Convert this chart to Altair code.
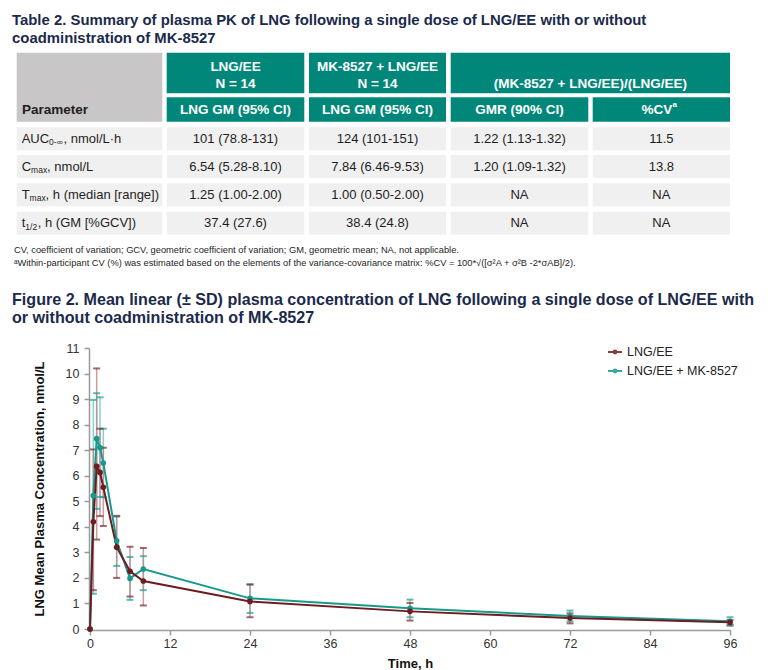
import altair as alt
import pandas as pd

FONT = "Liberation Sans"
NAVY = "#1b2a4c"
TEAL_HDR = "#00877a"
GRAY_HDR = "#c8c6c6"
CELL_BG = "#f0f0f0"
INK = "#1e1e1e"
RED = "#6d1c21"
TEAL = "#17998c"
RED_BAR = "#c08a8e"
TEAL_BAR = "#72c9bf"
RED_CAP = "#7e2a30"
TEAL_CAP = "#1f9e92"

# ---------------- data ----------------
table_title = [
    "Table 2. Summary of plasma PK of LNG following a single dose of LNG/EE with or without",
    "coadministration of MK-8527",
]
figure_title = [
    "Figure 2. Mean linear (\u00b1 SD) plasma concentration of LNG following a single dose of LNG/EE with",
    "or without coadministration of MK-8527",
]
group_headers = ["LNG/EE\nN = 14", "MK-8527 + LNG/EE\nN = 14", "(MK-8527 + LNG/EE)/(LNG/EE)"]
sub_headers = ["LNG GM (95% CI)", "LNG GM (95% CI)", "GMR (90% CI)", "%CV"]
sub_header_sup = "a"
param_header = "Parameter"
param_main = ["AUC", "C", "T", "t"]
param_sub = ["0-\u221e", "max", "max", "1/2"]
param_rest = [", nmol/L\u00b7h", ", nmol/L", ", h (median [range])", ", h (GM [%GCV])"]
lng_ee_gm = ["101 (78.8-131)", "6.54 (5.28-8.10)", "1.25 (1.00-2.00)", "37.4 (27.6)"]
mk_lng_gm = ["124 (101-151)", "7.84 (6.46-9.53)", "1.00 (0.50-2.00)", "38.4 (24.8)"]
gmr_ci = ["1.22 (1.13-1.32)", "1.20 (1.09-1.32)", "NA", "NA"]
cv_pct = ["11.5", "13.8", "NA", "NA"]
footnotes = [
    "CV, coefficient of variation; GCV, geometric coefficient of variation; GM, geometric mean; NA, not applicable.",
    "\u1d43Within-participant CV (%) was estimated based on the elements of the variance-covariance matrix: "
    "%CV = 100*\u221a([\u03c3\u00b2A + \u03c3\u00b2B -2*\u03c3AB]/2).",
]

series_names = ["LNG/EE", "LNG/EE + MK-8527"]
time_h = [0, 0.5, 1, 1.5, 2, 4, 6, 8, 24, 48, 72, 96]
lng_mean = [0, 4.20, 6.37, 6.13, 5.55, 3.20, 2.26, 1.88, 1.08, 0.69, 0.43, 0.26]
lng_upper = [None, 7.03, 10.20, 7.84, 7.10, 4.43, 3.22, 3.17, 1.74, 1.02, 0.61, 0.35]
lng_lower = [None, 1.52, 3.50, 4.42, 4.03, 2.00, 1.27, 0.92, 0.46, 0.33, 0.22, 0.17]
mk_mean = [0, 5.22, 7.45, 7.10, 6.50, 3.45, 1.98, 2.35, 1.20, 0.81, 0.51, 0.30]
mk_upper = [None, 8.97, 9.23, 9.07, 7.84, 4.40, 2.82, 2.85, 1.75, 1.15, 0.72, 0.46]
mk_lower = [None, 1.38, 4.70, 5.17, 5.16, 2.47, 1.14, 1.52, 0.63, 0.46, 0.30, 0.12]
x_ticks = [0, 12, 24, 36, 48, 60, 72, 84, 96]
y_ticks = list(range(0, 12))

# ---------------- layout (page pixels) ----------------
OX, OY = 90, 8
TOP_W, TOP_H = 640, 330
col_l = [16.7, 166.7, 309.0, 450.7, 592.7]
col_r = [162.3, 304.3, 446.0, 588.3, 730.0]
hdr1 = (52.7, 93.3)
hdr2 = (97.3, 121.7)
row_t = [127.3, 155.0, 183.3, 211.7]
ROW_H = 23.0
sub_dx = [27.4, 9.4, 7.9, 3.6]
rest_dx = [41.8, 25.4, 23.9, 16.1]


def cx(c):
    return (col_l[c] + col_r[c]) / 2


rects = []


def add_rect(l, r, t, b, fill):
    rects.append(dict(x=l - OX, x2=r - OX, y=t - OY, y2=b - OY, fill=fill))


add_rect(col_l[0], col_r[0], hdr1[0], hdr2[1], GRAY_HDR)
add_rect(col_l[1], col_r[1], hdr1[0], hdr1[1], TEAL_HDR)
add_rect(col_l[2], col_r[2], hdr1[0], hdr1[1], TEAL_HDR)
add_rect(col_l[3], col_r[4], hdr1[0], hdr1[1], TEAL_HDR)
for c in range(1, 5):
    add_rect(col_l[c], col_r[c], hdr2[0], hdr2[1], TEAL_HDR)
for r in range(4):
    for c in range(5):
        add_rect(col_l[c], col_r[c], row_t[r], row_t[r] + ROW_H, CELL_BG)
rect_df = pd.DataFrame(rects)

group_x = [cx(1), cx(2), (col_l[3] + col_r[4]) / 2]
grp_df = pd.DataFrame({
    "x": [v - OX for v in group_x],
    "y": [(71 if "\n" in t else 87.5) - OY for t in group_headers],
    "text": group_headers,
})
sub_x = [cx(1), cx(2), cx(3), cx(4) - 4.5]
sub_df = pd.DataFrame({
    "x": [v - OX for v in sub_x],
    "y": [(hdr2[0] + hdr2[1]) / 2 - OY] * 4,
    "text": sub_headers,
})
sup_df = pd.DataFrame({"x": [cx(4) + 11.2 - OX], "y": [104.5 - OY], "text": [sub_header_sup]})
par_df = pd.DataFrame({"x": [22 - OX], "y": [(hdr2[0] + hdr2[1]) / 2 - OY], "text": [param_header]})

cells = []
for r in range(4):
    yc = row_t[r] + ROW_H / 2 - OY
    for c, col in zip(range(1, 5), [lng_ee_gm, mk_lng_gm, gmr_ci, cv_pct]):
        cells.append(dict(x=cx(c) - OX, y=yc, text=col[r]))
cell_df = pd.DataFrame(cells)

lab_main, lab_sub = [], []
for r in range(4):
    yc = row_t[r] + ROW_H / 2 - OY
    x0 = 21.7 - OX
    lab_main.append(dict(x=x0, y=yc, text=param_main[r]))
    lab_main.append(dict(x=x0 + rest_dx[r], y=yc, text=param_rest[r]))
    lab_sub.append(dict(x=x0 + sub_dx[r], y=yc + 3.5, text=param_sub[r]))
lab_main_df = pd.DataFrame(lab_main)
lab_sub_df = pd.DataFrame(lab_sub)

ttl_tab_df = pd.DataFrame({"x": [12 - OX] * 2, "y": [25 - OY, 43 - OY], "text": table_title})
ttl_fig_df = pd.DataFrame({"x": [12 - OX] * 2, "y": [305 - OY, 323 - OY], "text": figure_title})
foot_df = pd.DataFrame({"x": [14 - OX] * 2, "y": [253 - OY, 266 - OY], "text": footnotes})

xs = alt.Scale(domain=[0, TOP_W], nice=False, zero=False)
ys = alt.Scale(domain=[0, TOP_H], nice=False, zero=False, reverse=True)
X = alt.X("x:Q", scale=xs, axis=None)
Y = alt.Y("y:Q", scale=ys, axis=None)
T = alt.Text("text:N")

rect_layer = alt.Chart(rect_df).mark_rect().encode(
    x=X, x2="x2:Q", y=Y, y2="y2:Q", color=alt.Color("fill:N", scale=None)
)


def text_layer(df, **kw):
    return alt.Chart(df).mark_text(font=FONT, **kw).encode(x=X, y=Y, text=T)


layers_top = [
    rect_layer,
    text_layer(grp_df, align="center", baseline="alphabetic", fontSize=13.5, fontWeight="bold",
               color="white", lineBreak="\n", lineHeight=17),
    text_layer(sub_df, align="center", baseline="middle", fontSize=13.5, fontWeight="bold", color="white"),
    text_layer(sup_df, align="left", baseline="middle", fontSize=8, fontWeight="bold", color="white"),
    text_layer(par_df, align="left", baseline="middle", fontSize=13.5, fontWeight="bold", color=INK),
    text_layer(cell_df, align="center", baseline="middle", fontSize=13, color=INK),
    text_layer(lab_main_df, align="left", baseline="middle", fontSize=13, color=INK),
    text_layer(lab_sub_df, align="left", baseline="middle", fontSize=8.5, color=INK),
    text_layer(ttl_tab_df, align="left", baseline="alphabetic", fontSize=14.9, fontWeight="bold", color=NAVY),
    text_layer(ttl_fig_df, align="left", baseline="alphabetic", fontSize=16.1, fontWeight="bold", color=NAVY),
    text_layer(foot_df, align="left", baseline="alphabetic", fontSize=9.3, color=INK),
]
top = alt.layer(*layers_top).properties(width=TOP_W, height=TOP_H)

# ---------------- PK chart ----------------
recs = []
for name, mean, lo, hi, lc, bc, cc in [
    (series_names[1], mk_mean, mk_lower, mk_upper, TEAL, TEAL_BAR, TEAL_CAP),
    (series_names[0], lng_mean, lng_lower, lng_upper, RED, RED_BAR, RED_CAP),
]:
    for t, m, l, h in zip(time_h, mean, lo, hi):
        recs.append(dict(series=name, time=t, mean=m, lo=l, hi=h, lcol=lc, bcol=bc, ccol=cc))
pk = pd.DataFrame(recs)

x_axis = alt.Axis(values=x_ticks, title="Time, h", offset=1, labelFontSize=12.5, labelColor="#333",
                  domainColor="#9a9a9a", domainWidth=1.5, tickColor="#9a9a9a", tickWidth=1.5, tickSize=5,
                  labelPadding=2, labelFlush=False, titleFontSize=13, titleFontWeight="bold",
                  titleColor="#111", titlePadding=8, grid=False)
y_axis = alt.Axis(values=y_ticks, title="LNG Mean Plasma Concentration, nmol/L", offset=1,
                  labelFontSize=12.5, labelColor="#333", domainColor="#9a9a9a", domainWidth=1.5,
                  tickColor="#9a9a9a", tickWidth=1.5, tickSize=5, labelPadding=5, labelFlush=False,
                  titleFontSize=13, titleFontWeight="bold", titleColor="#111", titlePadding=19, grid=False)
xsc = alt.Scale(domain=[0, 96], nice=False)
ysc = alt.Scale(domain=[0, 11], nice=False)
PX = alt.X("time:Q", scale=xsc, axis=x_axis)

base = alt.Chart(pk)
stems = base.mark_rule(strokeWidth=1.5, opacity=0.85).encode(
    x=PX, y=alt.Y("lo:Q", scale=ysc, axis=y_axis), y2="hi:Q", color=alt.Color("bcol:N", scale=None)
)
caps_lo = base.mark_tick(orient="horizontal", size=7, thickness=2).encode(
    x=PX, y=alt.Y("lo:Q", scale=ysc, axis=y_axis), color=alt.Color("ccol:N", scale=None)
)
caps_hi = base.mark_tick(orient="horizontal", size=7, thickness=2).encode(
    x=PX, y=alt.Y("hi:Q", scale=ysc, axis=y_axis), color=alt.Color("ccol:N", scale=None)
)
LEG_PATH = ("M-1,0H1"
            "M-0.2,0A0.2,0.2,0,1,0,0.2,0A0.2,0.2,0,1,0,-0.2,0"
            "M-0.08,0A0.08,0.08,0,1,0,0.08,0A0.08,0.08,0,1,0,-0.08,0")
legend = alt.Legend(
    title=None, orient="none", legendX=517, legendY=336, direction="vertical",
    symbolType=LEG_PATH, symbolSize=196, symbolStrokeWidth=2, labelFont=FONT, labelFontSize=12.5,
    labelColor="#222", rowPadding=4, labelOffset=4,
)
lines = base.mark_line(strokeWidth=2).encode(
    x=PX, y=alt.Y("mean:Q", scale=ysc, axis=y_axis),
    color=alt.Color("series:N", scale=alt.Scale(domain=series_names, range=[RED, TEAL]), legend=legend),
    detail="series:N",
)
pts = base.mark_circle(size=32, opacity=1).encode(
    x=PX, y=alt.Y("mean:Q", scale=ysc, axis=y_axis), color=alt.Color("lcol:N", scale=None)
)
bottom = alt.layer(stems, caps_lo, caps_hi, lines, pts).properties(width=640, height=281)

chart = (
    alt.vconcat(top, bottom, spacing=4)
    .properties(padding={"left": 4, "top": 0, "right": 0, "bottom": 0})
    .configure(font=FONT)
    .configure_view(stroke=None)
)
chart.save("out.html", embed_options={"renderer": "svg", "actions": False})
